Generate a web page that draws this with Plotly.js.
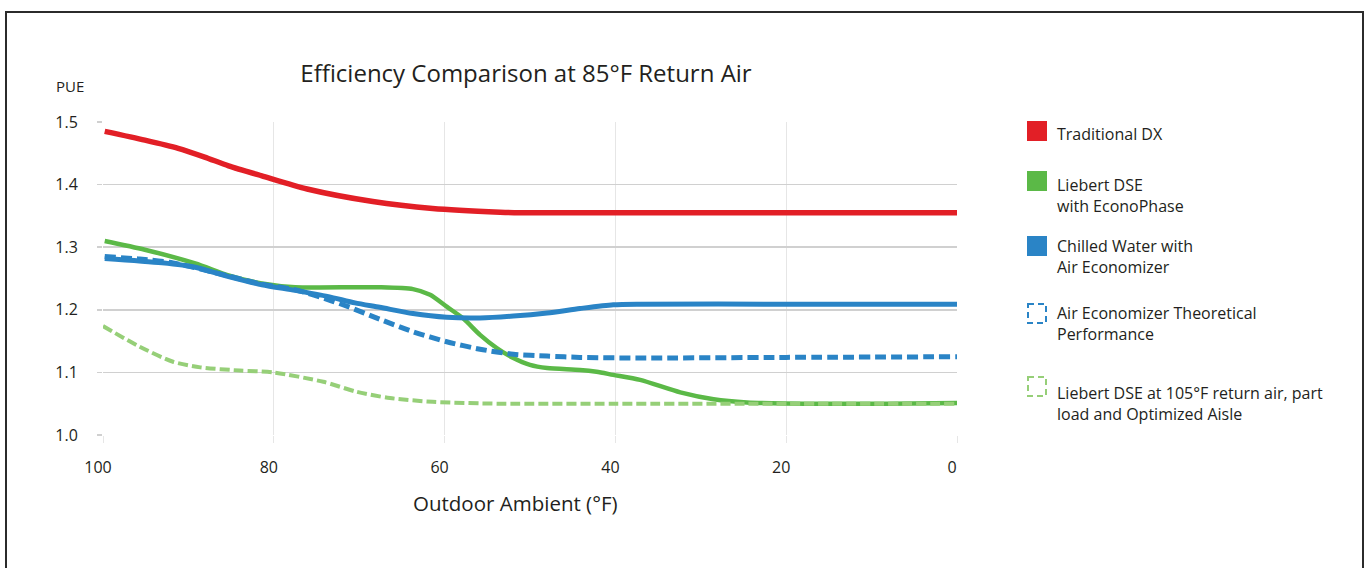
<!DOCTYPE html>
<html>
<head>
<meta charset="utf-8">
<script src="https://cdn.plot.ly/plotly-3.0.1.min.js"></script>
<style>
  html, body { margin: 0; padding: 0; background: #ffffff; }
  #chart { width: 1368px; height: 568px; }
</style>
</head>
<body>
<div id="chart"></div>
<script>
// ---- Data ----
const chartTitle = "Efficiency Comparison at 85°F Return Air";
const xAxisTitle = "Outdoor Ambient (°F)";
const yAxisTitle = "PUE";
const xTickVals = [100, 80, 60, 40, 20, 0];
const yTickVals = [1.0, 1.1, 1.2, 1.3, 1.4, 1.5];

const seriesNames = [
  "Traditional DX",
  "Liebert DSE<br>with EconoPhase",
  "Chilled Water with<br>Air Economizer",
  "Air Economizer Theoretical<br>Performance",
  "Liebert DSE at 105°F return air, part<br>load and Optimized Aisle"
];

const dxAmbient = [99.8, 95.1, 91.2, 88.1, 85.3, 81.4, 76.1, 68.4, 61.4, 53.5, 51.2, 40, 20, 0];
const dxPUE     = [1.485, 1.471, 1.458, 1.444, 1.430, 1.414, 1.393, 1.373, 1.362, 1.356, 1.355, 1.355, 1.355, 1.355];

const dseAmbient = [99.8, 95.1, 89.2, 85.3, 81.4, 77.5, 70.5, 67.6, 63.7, 61.7, 59.75, 57.8, 55.85, 53.9, 51.95, 50.0, 48.0, 44.15, 42.2, 40.25, 37.1, 32.4, 28.5, 24.6, 16.8, 8, 0];
const dsePUE     = [1.310, 1.296, 1.274, 1.255, 1.242, 1.236, 1.236, 1.236, 1.233, 1.224, 1.205, 1.186, 1.160, 1.139, 1.123, 1.112, 1.107, 1.104, 1.101, 1.096, 1.088, 1.068, 1.057, 1.052, 1.050, 1.050, 1.051];

const cwAmbient = [99.8, 93.1, 89.2, 85.3, 81.4, 77.5, 73.6, 70.5, 67.6, 63.7, 59.75, 55.85, 51.95, 48.0, 44.15, 40.25, 37.1, 20, 0];
const cwPUE     = [1.282, 1.275, 1.268, 1.253, 1.240, 1.231, 1.221, 1.211, 1.204, 1.194, 1.188, 1.187, 1.190, 1.195, 1.202, 1.208, 1.209, 1.209, 1.209];

const aeAmbient = [99.8, 95.7, 91.8, 85.3, 81.4, 77.5, 73.6, 71.3, 67.6, 63.7, 59.75, 55.85, 51.95, 48.0, 44.15, 37.1, 20, 0];
const aePUE     = [1.285, 1.281, 1.275, 1.254, 1.241, 1.232, 1.216, 1.205, 1.185, 1.165, 1.149, 1.137, 1.129, 1.126, 1.124, 1.123, 1.124, 1.125];

const dse105Ambient = [100, 95.7, 91.8, 88.6, 84.0, 80.1, 74.2, 70.3, 66.4, 61.4, 53.5, 40, 20, 0];
const dse105PUE     = [1.174, 1.141, 1.117, 1.108, 1.103, 1.100, 1.085, 1.069, 1.059, 1.053, 1.050, 1.050, 1.050, 1.050];

// ---- Styles ----
const RED = "#e21f26", GREEN = "#5bb947", BLUE = "#2a84c6", LGREEN = "#96cf78";
const FONT = "'Open Sans', Lato, sans-serif";
const TXT = "#231f20";
const WT = 500;

const W = 1368, H = 568;
const PL = 103, PR = 957, PT = 122, PB = 435;
const px = v => (v - PL) / (PR - PL);   // pixel x -> paper
const py = v => (PB - v) / (PB - PT);   // pixel y -> paper

const traces = [
  {x: dxAmbient, y: dxPUE, name: seriesNames[0], mode: "lines",
   line: {color: RED, width: 5.5, shape: "spline", smoothing: 0.7}},
  {x: dseAmbient, y: dsePUE, name: seriesNames[1], mode: "lines",
   line: {color: GREEN, width: 4.5, shape: "spline", smoothing: 0.7}},
  {x: aeAmbient, y: aePUE, name: seriesNames[3], mode: "lines",
   line: {color: BLUE, width: 5, dash: "11px,5px", shape: "spline", smoothing: 0.7}},
  {x: cwAmbient, y: cwPUE, name: seriesNames[2], mode: "lines",
   line: {color: BLUE, width: 5, shape: "spline", smoothing: 0.7}},
  {x: dse105Ambient, y: dse105PUE, name: seriesNames[4], mode: "lines",
   line: {color: LGREEN, width: 4, dash: "10px,4px", shape: "spline", smoothing: 0.7}}
];

// Legend (drawn manually to reproduce square swatches)
const legendItems = [
  {name: seriesNames[0], color: RED, dashed: false, sq: 121, ty: 134},
  {name: seriesNames[1], color: GREEN, dashed: false, sq: 171, ty: 195},
  {name: seriesNames[2], color: BLUE, dashed: false, sq: 236, ty: 256},
  {name: seriesNames[3], color: BLUE, dashed: true, sq: 304, ty: 323},
  {name: seriesNames[4], color: LGREEN, dashed: true, sq: 377, ty: 403}
];

const shapes = [
  // outer frame
  {type: "rect", xref: "paper", yref: "paper",
   x0: px(6), x1: px(1363), y0: py(12), y1: py(620),
   line: {color: "#2b2b2b", width: 2}, fillcolor: "rgba(0,0,0,0)", layer: "below"}
];
const annotations = [
  {xref: "paper", yref: "paper", x: px(54), y: py(86), xanchor: "left", yanchor: "middle",
   text: yAxisTitle, showarrow: false, font: {family: FONT, size: 15, color: TXT, weight: WT}},
  {xref: "paper", yref: "paper", x: px(515), y: py(503), xanchor: "center", yanchor: "middle",
   text: xAxisTitle, showarrow: false, font: {family: FONT, size: 20.5, color: TXT, weight: WT}}
];
legendItems.forEach(it => {
  if (it.dashed) {
    shapes.push({type: "rect", xref: "paper", yref: "paper",
      x0: px(1028), x1: px(1046), y0: py(it.sq), y1: py(it.sq + 19),
      line: {color: it.color, width: 2, dash: "6px,4px"}, fillcolor: "rgba(0,0,0,0)"});
  } else {
    shapes.push({type: "rect", xref: "paper", yref: "paper",
      x0: px(1027), x1: px(1047), y0: py(it.sq), y1: py(it.sq + 20),
      line: {width: 0}, fillcolor: it.color});
  }
  annotations.push({xref: "paper", yref: "paper", x: px(1055), y: py(it.ty),
    xanchor: "left", yanchor: "middle", align: "left", showarrow: false,
    text: it.name, font: {family: FONT, size: 16, color: TXT, weight: WT}});
});

const layout = {
  width: W, height: H,
  margin: {l: PL, r: W - PR, t: PT, b: H - PB, pad: 0},
  paper_bgcolor: "#ffffff", plot_bgcolor: "#ffffff",
  showlegend: false,
  title: {text: chartTitle, x: 526 / W, xref: "container", xanchor: "center",
          y: 1 - 74 / H, yref: "container", yanchor: "middle",
          font: {family: FONT, size: 24, color: TXT, weight: WT}},
  xaxis: {
    range: [100, 0], tickvals: xTickVals, ticktext: xTickVals.map(String),
    showgrid: true, gridcolor: "#e6e6e6", gridwidth: 1,
    zeroline: false, showline: false,
    ticks: "outside", ticklen: 7, tickcolor: "#e6e6e6", tickwidth: 1,
    tickfont: {family: FONT, size: 16, color: TXT, weight: WT},
    ticklabelshift: 5, ticklabelstandoff: 11
  },
  yaxis: {
    range: [1.0, 1.5], tickvals: yTickVals, tickformat: ".1f",
    showgrid: true, gridcolor: "#d0d0d0", gridwidth: 1.5,
    zeroline: false, showline: false,
    ticks: "outside", ticklen: 5, tickcolor: "#d0d0d0", tickwidth: 1.5,
    tickfont: {family: FONT, size: 16, color: TXT, weight: WT},
    ticklabelstandoff: 16
  },
  shapes: shapes,
  annotations: annotations
};

Plotly.newPlot("chart", traces, layout, {displayModeBar: false, staticPlot: true});
</script>
</body>
</html>
